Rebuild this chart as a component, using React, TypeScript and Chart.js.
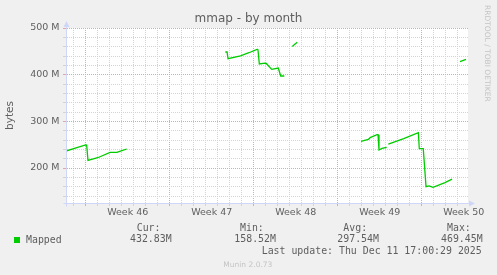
import React, { useEffect, useRef } from 'react';
import { Chart, registerables } from 'chart.js';

Chart.register(...registerables);

// ---- data (x = days since Monday of week 46, y = megabytes) ----
const weekNumbers = [46, 47, 48, 49, 50];
const weekStartDays = [0, 7, 14, 21, 28];

const dayOffsets = [
  -1.64, -0.8, 0.0, 0.08, 0.19, 1.0, 2.03, 2.6, 2.9, 3.42, 3.6,
  11.63, 11.78, 11.86, 12.9, 13.6, 14.28, 14.35, 14.47, 14.94, 15.05, 15.5, 16.05, 16.25, 16.55, 16.9,
  17.22, 17.4, 17.63, 17.9,
  22.94, 23.55, 23.7, 24.28, 24.36, 24.44, 24.69, 25.08, 25.15,
  25.22, 26.5, 27.72, 27.8, 28.13, 28.36, 28.61, 28.94, 29.94, 30.53, 30.8,
  31.19, 31.69,
];
const mappedM = [
  236.4, 243, 249.3, 249, 216.3, 222, 233.4, 233.4, 236, 240.7, null,
  448.6, 448.6, 434.2, 440.5, 447, 454.1, 454.5, 422.9, 424.6, 424, 411.3, 414.3, 397.1, 397.1, null,
  460.6, 464.5, 469.4, null,
  257, 261.3, 265, 271.4, 271.4, 238.6, 242, 244.2, null,
  251.4, 263, 275.7, 241.4, 241.4, 160, 161.5, 158.5, 168.5, 176.3, null,
  427.8, 432.8,
];

const yTickValues = [140, 160, 180, 200, 220, 240, 260, 280, 300, 320, 340, 360, 380, 400, 420, 440, 460, 480, 500];
const statLabels = ['Cur:', 'Min:', 'Avg:', 'Max:'];
const statValues = ['432.83M', '158.52M', '297.54M', '469.45M'];
const seriesName = 'Mapped';
const chartTitle = 'mmap - by month';
const lastUpdate = 'Last update: Thu Dec 11 17:00:29 2025';

// ---- style ----
const X_MIN = -1.642;
const X_MAX = 31.858;
const Y_MIN = 125;
const Y_MAX = 500;
const TEXT = '#5e5e5e';
const MINOR = '#d4d4d4';
const MAJOR = '#e8a4a4';
const AXIS = '#CFD6F8';
const LINE = '#00CC00';

const bgPlugin = {
  id: 'bg',
  beforeDraw(chart: any) {
    const { ctx, chartArea } = chart;
    ctx.save();
    ctx.fillStyle = '#F0F0F0';
    ctx.fillRect(0, 0, chart.width, chart.height);
    ctx.fillStyle = '#FFFFFF';
    ctx.fillRect(chartArea.left, chartArea.top, chartArea.right - chartArea.left, chartArea.bottom - chartArea.top);
    ctx.restore();
  },
};

const arrowPlugin = {
  id: 'arrows',
  afterDraw(chart: any) {
    const { ctx, chartArea } = chart;
    const { left, right, top, bottom } = chartArea;
    const ax = Math.round(left) + 0.5;
    const ay = Math.round(bottom) + 0.5;
    ctx.save();
    ctx.strokeStyle = AXIS;
    ctx.fillStyle = AXIS;
    ctx.lineWidth = 1;
    ctx.beginPath();
    ctx.moveTo(ax, ay + 3);
    ctx.lineTo(ax, top - 2);
    ctx.moveTo(ax - 3, ay);
    ctx.lineTo(right + 2, ay);
    ctx.stroke();
    ctx.beginPath();
    ctx.moveTo(ax, top - 7);
    ctx.lineTo(ax - 3, top - 1);
    ctx.lineTo(ax + 3, top - 1);
    ctx.closePath();
    ctx.fill();
    ctx.beginPath();
    ctx.moveTo(right + 7, ay);
    ctx.lineTo(right + 1, ay - 3);
    ctx.lineTo(right + 1, ay + 3);
    ctx.closePath();
    ctx.fill();
    ctx.restore();
  },
};

const statLeftLabel = [136.7, 240, 343.3, 447];
const statLeftValue = [130, 234.3, 337.3, 441];

export default function App() {
  const canvasRef = useRef<HTMLCanvasElement | null>(null);

  useEffect(() => {
    if (!canvasRef.current) return;
    const points = dayOffsets.map((d, i) => ({ x: d, y: mappedM[i] }));
    const chart = new Chart(canvasRef.current, {
      type: 'line',
      data: {
        datasets: [
          {
            label: seriesName,
            data: points as any,
            borderColor: LINE,
            backgroundColor: LINE,
            borderWidth: 1.3,
            pointRadius: 0,
            tension: 0,
            spanGaps: false,
          },
        ],
      },
      options: {
        animation: false,
        responsive: false,
        devicePixelRatio: 1,
        layout: { padding: { left: 0, top: 28, right: 29, bottom: 52 } },
        plugins: {
          legend: { display: false },
          tooltip: { enabled: false },
          title: { display: false },
        },
        scales: {
          x: {
            type: 'linear',
            min: X_MIN,
            max: X_MAX,
            afterBuildTicks: (scale: any) => {
              const t = [];
              for (let v = -1.5; v <= 31.5; v += 0.5) t.push({ value: v });
              scale.ticks = t;
            },
            afterFit: (scale: any) => {
              scale.height = 20;
            },
            ticks: {
              autoSkip: false,
              maxRotation: 0,
              minRotation: 0,
              padding: 1,
              color: TEXT,
              font: { family: 'DejaVu Sans', size: 9.5 },
              callback: (v: any) => {
                const idx = weekStartDays.findIndex((s) => Math.abs(s + 3.5 - Number(v)) < 1e-6);
                return idx >= 0 ? 'Week ' + weekNumbers[idx] : '';
              },
            },
            grid: {
              color: (c: any) => {
                const v = c.tick ? c.tick.value : 0.5;
                if (!Number.isInteger(v)) return 'rgba(0,0,0,0)';
                return weekStartDays.includes(v) ? MAJOR : MINOR;
              },
              tickLength: 3,
              lineWidth: 1,
            },
            border: { color: AXIS, dash: [1, 1] },
          },
          y: {
            min: Y_MIN,
            max: Y_MAX,
            afterBuildTicks: (scale: any) => {
              scale.ticks = yTickValues.map((v) => ({ value: v }));
            },
            afterFit: (scale: any) => {
              scale.width = 66;
            },
            ticks: {
              autoSkip: false,
              padding: 3.5,
              color: TEXT,
              font: { family: 'DejaVu Sans', size: 9.5 },
              callback: (v: any) => (Number(v) % 100 === 0 ? v + ' M' : ''),
            },
            grid: {
              color: (c: any) => (c.tick && c.tick.value % 100 === 0 ? MAJOR : MINOR),
              tickLength: 3,
              lineWidth: 1,
            },
            border: { color: AXIS, dash: [1, 1] },
            title: {
              display: true,
              text: 'bytes',
              color: TEXT,
              font: { family: 'DejaVu Sans', size: 10.5 },
              padding: { top: 3.7, bottom: 0 },
            },
          },
        },
      },
      plugins: [bgPlugin, arrowPlugin],
    });
    return () => chart.destroy();
  }, []);

  const mono: React.CSSProperties = {
    position: 'absolute',
    fontFamily: '"DejaVu Sans Mono", monospace',
    fontSize: '9.9px',
    lineHeight: '12px',
    color: TEXT,
    whiteSpace: 'pre',
  };

  return (
    <div style={{ position: 'absolute', left: 0, top: 0, width: 497, height: 275, background: '#F0F0F0', overflow: 'hidden' }}>
      <canvas ref={canvasRef} width={497} height={275} style={{ position: 'absolute', left: 0, top: 0, width: 497, height: 275 }} />
      <div
        style={{
          position: 'absolute',
          left: 0,
          width: 497,
          top: 11,
          textAlign: 'center',
          fontFamily: '"DejaVu Sans", sans-serif',
          fontSize: '12px',
          lineHeight: '15px',
          color: TEXT,
          whiteSpace: 'pre',
        }}
      >
        {chartTitle}
      </div>
      <div
        style={{
          position: 'absolute',
          left: 483,
          top: 5,
          writingMode: 'vertical-rl',
          fontFamily: '"DejaVu Sans", sans-serif',
          fontSize: '7.5px',
          lineHeight: '9px',
          color: '#c4c4c4',
          whiteSpace: 'pre',
        }}
      >
        RRDTOOL / TOBI OETIKER
      </div>
      <div style={{ position: 'absolute', left: 14, top: 236.5, width: 6, height: 6, background: LINE }} />
      <div style={{ ...mono, left: 26, top: 233.5 }}>{seriesName}</div>
      {statLabels.map((s, i) => (
        <div key={'l' + i} style={{ ...mono, left: statLeftLabel[i], top: 221.7 }}>{s}</div>
      ))}
      {statValues.map((s, i) => (
        <div key={'v' + i} style={{ ...mono, left: statLeftValue[i], top: 233.3 }}>{s}</div>
      ))}
      <div style={{ ...mono, left: 261.7, top: 245 }}>{lastUpdate}</div>
      <div
        style={{
          position: 'absolute',
          left: 223.3,
          top: 259.5,
          fontFamily: '"DejaVu Sans", sans-serif',
          fontSize: '7.5px',
          lineHeight: '9px',
          color: '#c4c4c4',
          whiteSpace: 'pre',
        }}
      >
        Munin 2.0.73
      </div>
    </div>
  );
}
